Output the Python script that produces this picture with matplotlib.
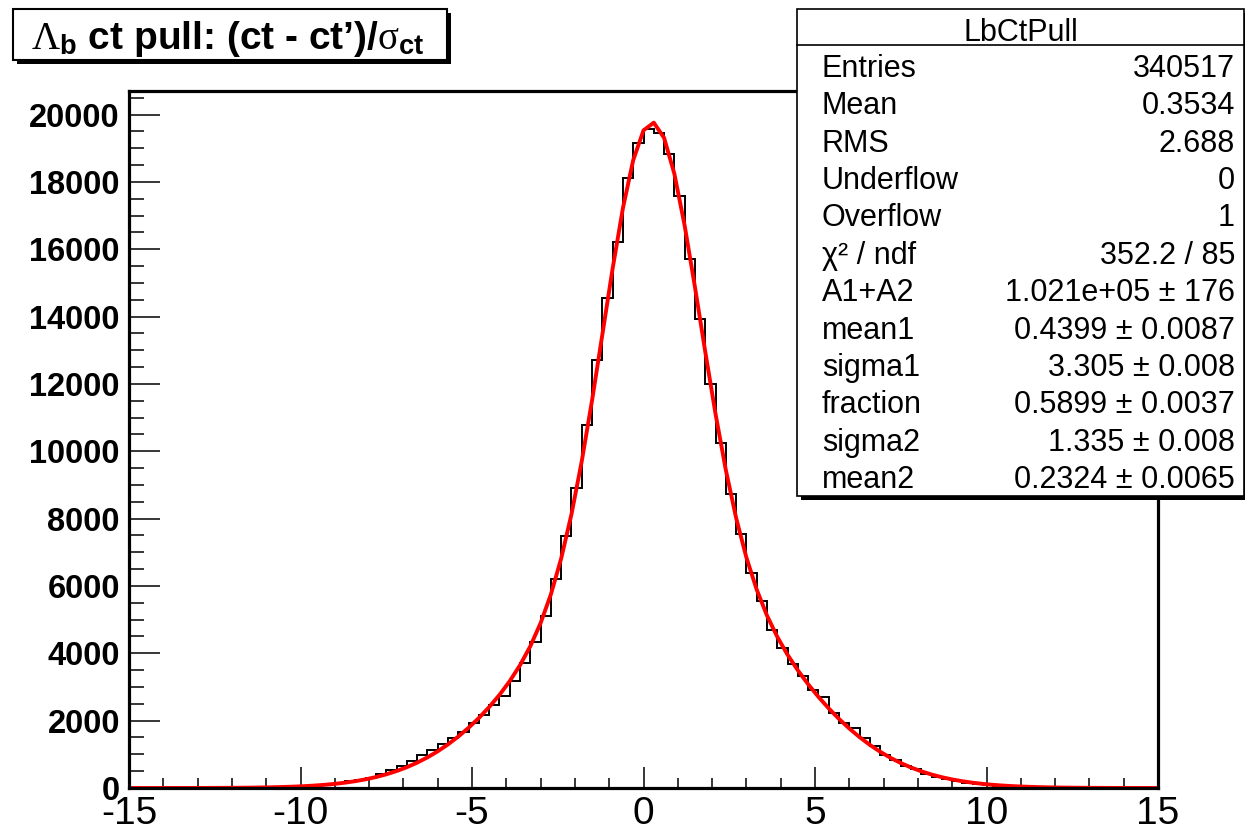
import numpy as np
import matplotlib
matplotlib.use('Agg')
import matplotlib.pyplot as plt
from matplotlib.patches import Rectangle
from matplotlib.lines import Line2D
from matplotlib.ticker import MultipleLocator

plt.rcParams['font.family'] = ['Liberation Sans', 'DejaVu Sans']
plt.rcParams['mathtext.fontset'] = 'custom'
plt.rcParams['mathtext.rm'] = 'Liberation Serif'
plt.rcParams['mathtext.bf'] = 'Liberation Sans:bold'
plt.rcParams['mathtext.it'] = 'Liberation Serif:italic'
plt.rcParams['axes.unicode_minus'] = False

# ---------------- data ----------------
x_min, x_max, n_bins = -15.0, 15.0, 100
counts = [
    0, 0, 1, 0, 1, 1, 2, 2, 3, 4,
    5, 7, 10, 14, 20, 28, 40, 56, 78, 110,
    150, 195, 250, 300, 420, 520, 650, 790, 970, 1140,
    1310, 1490, 1673, 1922, 2169, 2467, 2734, 3180, 3705, 4348,
    5111, 6202, 7480, 8920, 10790, 12700, 14550, 16220, 18130, 19160,
    19580, 19460, 18830, 17570, 15720, 13930, 11990, 10243, 8737, 7548,
    6399, 5567, 4680, 4151, 3685, 3328, 2900, 2695, 2239, 1922,
    1773, 1496, 1248, 981, 832, 664, 555, 416, 337, 267,
    198, 158, 120, 88, 62, 44, 30, 20, 13, 9,
    6, 4, 3, 2, 1, 1, 0, 1, 0, 0,
]

# fit parameters (double gaussian), as shown in the stats box
fit_norm = 1.021e5
fit_mean1, fit_sigma1 = 0.4399, 3.305
fit_fraction = 0.5899
fit_mean2, fit_sigma2 = 0.2324, 1.335
fit_npx = 100

stats_title = "LbCtPull"
stats_labels = ["Entries", "Mean", "RMS", "Underflow", "Overflow", "\u03c7\u00b2 / ndf",
                "A1+A2", "mean1", "sigma1", "fraction", "sigma2", "mean2"]
stats_values = ["340517", "0.3534", "2.688", "0", "1", "352.2 / 85",
                "1.021e+05 \u00b1 176", "0.4399 \u00b1 0.0087", "3.305 \u00b1 0.008",
                "0.5899 \u00b1 0.0037", "1.335 \u00b1 0.008", "0.2324 \u00b1 0.0065"]

title = r"$\mathrm{\Lambda}_{\mathbf{b}}$ ct pull: (ct - ct’)/$\mathrm{\sigma}_{\mathbf{ct}}$"

# ---------------- figure ----------------
W, H = 1245, 830
fig = plt.figure(figsize=(W / 100, H / 100), dpi=100)

def fx(px):
    return px / W

def fy(py):
    return 1 - py / H

ax = fig.add_axes([fx(129), fy(788), fx(1158) - fx(129), fy(91) - fy(788)])

edges = np.linspace(x_min, x_max, n_bins + 1)
ax.stairs(counts, edges, color='black', linewidth=1.4, zorder=3)

def double_gauss(x):
    g1 = np.exp(-0.5 * ((x - fit_mean1) / fit_sigma1) ** 2) / (fit_sigma1 * np.sqrt(2 * np.pi))
    g2 = np.exp(-0.5 * ((x - fit_mean2) / fit_sigma2) ** 2) / (fit_sigma2 * np.sqrt(2 * np.pi))
    return fit_norm * (fit_fraction * g1 + (1 - fit_fraction) * g2)

xf = np.linspace(x_min, x_max, fit_npx + 1)
ax.plot(xf, double_gauss(xf), color='#ff0000', linewidth=2.8, zorder=4)

ax.set_xlim(x_min, x_max)
ax.set_ylim(0, 20700)

ax.xaxis.set_major_locator(MultipleLocator(5))
ax.xaxis.set_minor_locator(MultipleLocator(1))
ax.yaxis.set_major_locator(MultipleLocator(2000))
ax.yaxis.set_minor_locator(MultipleLocator(500))

for s in ax.spines.values():
    s.set_linewidth(2.3)
    s.set_zorder(5)

ax.tick_params(axis='x', which='major', direction='in', length=15, width=1.1,
               labelsize=28, pad=6, top=False)
ax.tick_params(axis='x', which='minor', direction='in', length=7.5, width=1.1, top=False)
ax.tick_params(axis='y', which='major', direction='in', length=22, width=1.1,
               labelsize=23.5, pad=6.5, right=False)
ax.tick_params(axis='y', which='minor', direction='in', length=11, width=1.1, right=False)
for lab in ax.get_yticklabels():
    lab.set_fontweight('bold')

# ---------------- title box ----------------
fig.patches.append(Rectangle((fx(16.7), fy(64)), fx(450.7) - fx(16.7), fy(13.3) - fy(64),
                             transform=fig.transFigure, facecolor='black',
                             edgecolor='none', zorder=10))
fig.patches.append(Rectangle((fx(12.7), fy(60)), fx(446.7) - fx(12.7), fy(9.3) - fy(60),
                             transform=fig.transFigure, facecolor='white',
                             edgecolor='black', linewidth=1.5, zorder=11))
fig.text(fx(228), fy(49.3), title, ha='center', va='baseline', fontsize=28,
         fontweight='bold', zorder=12)

# ---------------- stats box ----------------
fig.patches.append(Rectangle((fx(800.5), fy(500)), fx(1250) - fx(800.5), fy(13) - fy(500),
                             transform=fig.transFigure, facecolor='black',
                             edgecolor='none', zorder=10))
fig.patches.append(Rectangle((fx(797), fy(496)), fx(1244) - fx(797), fy(9.3) - fy(496),
                             transform=fig.transFigure, facecolor='white',
                             edgecolor='black', linewidth=1.2, zorder=11))
fig.add_artist(Line2D([fx(797), fx(1244)], [fy(45), fy(45)], transform=fig.transFigure,
                      color='black', linewidth=1.2, zorder=12))
fig.text(fx(1021), fy(40.7), stats_title, ha='center', va='baseline', fontsize=22, zorder=12)
for i, (lab, val) in enumerate(zip(stats_labels, stats_values)):
    yb = 76.7 + 37.4 * i
    fig.text(fx(821.7), fy(yb), lab, ha='left', va='baseline', fontsize=22, zorder=12)
    fig.text(fx(1235), fy(yb), val, ha='right', va='baseline', fontsize=22, zorder=12)

fig.savefig('out.png', dpi=100)
